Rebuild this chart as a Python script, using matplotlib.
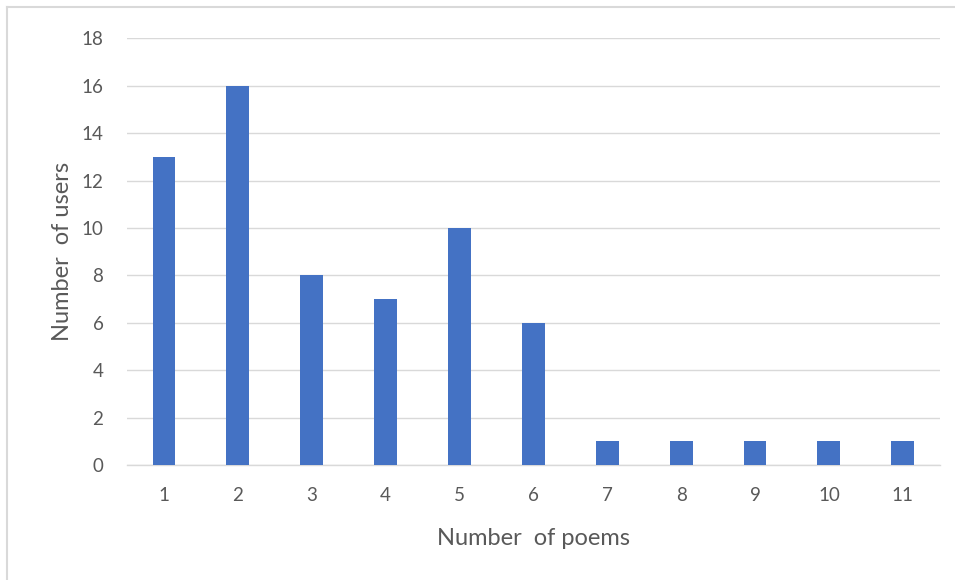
import numpy as np
import matplotlib.pyplot as plt
from matplotlib.lines import Line2D

plt.rcParams['font.family'] = ['Lato', 'DejaVu Sans']

poems = ['1', '2', '3', '4', '5', '6', '7', '8', '9', '10', '11']
users = [13, 16, 8, 7, 10, 6, 1, 1, 1, 1, 1]

text_color = '#595959'
bar_color = '#4472C4'
grid_color = '#d9d9d9'

fig = plt.figure(figsize=(9.55, 5.8), dpi=100)
ax = fig.add_axes([0.133, 0.198, 0.851, 0.736])

x = np.arange(len(poems))
ax.bar(x, users, width=0.31, color=bar_color, zorder=3)

ax.set_xlim(-0.5, len(poems) - 0.5)
ax.set_ylim(0, 18)
ax.set_yticks(np.arange(0, 19, 2))
ax.set_xticks(x)
ax.set_xticklabels(poems)

ax.grid(axis='y', color=grid_color, linewidth=1.0, zorder=0)
for s in ['top', 'right', 'left']:
    ax.spines[s].set_visible(False)
ax.spines['bottom'].set_color(grid_color)
ax.spines['bottom'].set_linewidth(1.0)

ax.tick_params(axis='both', length=0, labelsize=13.5, labelcolor=text_color)
ax.tick_params(axis='y', pad=17)
ax.tick_params(axis='x', pad=16)

ax.set_xlabel('Number  of poems', fontsize=17, color=text_color, labelpad=17)
ax.set_ylabel('Number  of users', fontsize=17, color=text_color, labelpad=6)

# light frame around the chart
fig.add_artist(Line2D([7 / 955, 1.0], [1 - 7 / 580, 1 - 7 / 580],
                      transform=fig.transFigure, color='#d9d9d9', linewidth=1.5))
fig.add_artist(Line2D([7 / 955, 7 / 955], [0.0, 1 - 7 / 580],
                      transform=fig.transFigure, color='#d9d9d9', linewidth=1.5))

fig.savefig('out.png', dpi=100)
